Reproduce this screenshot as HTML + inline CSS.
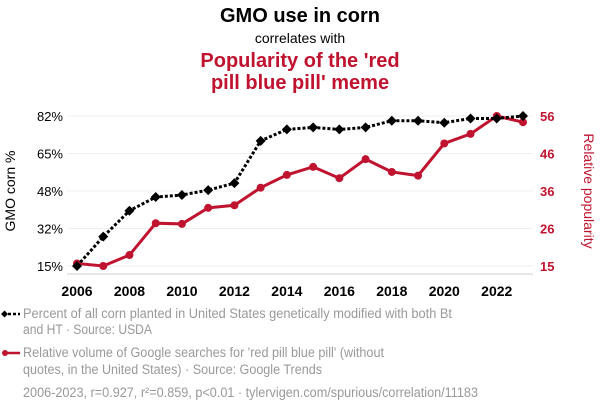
<!DOCTYPE html>
<html><head><meta charset="utf-8">
<style>
body{margin:0;background:#fff;font-family:"Liberation Sans",sans-serif;}
#wrap{position:relative;width:600px;height:414px;overflow:hidden;}
</style></head>
<body>
<div id="wrap">
<svg id="svg" width="600" height="414" xmlns="http://www.w3.org/2000/svg">
<text x="300" y="22" text-anchor="middle" font-size="20" font-weight="bold" fill="#000">GMO use in corn</text>
<text x="300" y="43" text-anchor="middle" font-size="14" fill="#000">correlates with</text>
<text x="300" y="67" text-anchor="middle" font-size="20" font-weight="bold" fill="#c0132f">Popularity of the 'red</text>
<text x="300" y="89" text-anchor="middle" font-size="20" font-weight="bold" fill="#c0132f">pill blue pill' meme</text>
<g id="grid"></g>
<g id="axes"></g>
<g id="series"></g>
<text transform="translate(15,191) rotate(-90)" text-anchor="middle" font-size="14" fill="#000">GMO corn %</text>
<text transform="translate(584,191) rotate(90)" text-anchor="middle" font-size="14" fill="#c0132f">Relative popularity</text>
<g>
<line x1="3" y1="314" x2="20" y2="314" stroke="#000" stroke-width="2.5" stroke-dasharray="3,2"/>
<path d="M1,314 L4.5,310.5 L8,314 L4.5,317.5Z" fill="#000"/>
<text x="23" y="318" font-size="13.5" fill="#999" textLength="429" lengthAdjust="spacingAndGlyphs">Percent of all corn planted in United States genetically modified with both Bt</text>
<text x="23" y="334" font-size="13.5" fill="#999" textLength="129" lengthAdjust="spacingAndGlyphs">and HT · Source: USDA</text>
</g>
<g>
<line x1="3" y1="353" x2="20" y2="353" stroke="#c0132f" stroke-width="2.5"/>
<circle cx="5" cy="353" r="3" fill="#c0132f"/>
<text x="23" y="357" font-size="13.5" fill="#999" textLength="361" lengthAdjust="spacingAndGlyphs">Relative volume of Google searches for 'red pill blue pill' (without</text>
<text x="23" y="374" font-size="13.5" fill="#999" textLength="299" lengthAdjust="spacingAndGlyphs">quotes, in the United States) · Source: Google Trends</text>
</g>
<text x="23" y="397" font-size="13.5" fill="#999" textLength="455" lengthAdjust="spacingAndGlyphs">2006-2023, r=0.927, r²=0.859, p&lt;0.01 · tylervigen.com/spurious/correlation/11183</text>
</svg>
</div>
<script>
const years=[2006,2007,2008,2009,2010,2011,2012,2013,2014,2015,2016,2017,2018,2019,2020,2021,2022,2023];
const gmoValues=[15,28.1,39.7,45.8,46.7,48.9,52,70.9,76,76.9,76,76.9,79.9,79.9,79,80.9,80.9,82];
const memeValues=[15.7,15,18,26.7,26.5,30.9,31.6,36.4,39.9,42.1,39,44.2,40.7,39.7,48.5,51.1,56,54.3];
const leftTickLabels=["15%","32%","48%","65%","82%"];
const rightTickLabels=["15","26","36","46","56"];
const xTickYears=[2006,2008,2010,2012,2014,2016,2018,2020,2022];

const NS="http://www.w3.org/2000/svg";
const X0=77,X1=523,YB=266,YT=116;
const xS=y=>X0+(y-2006)*(X1-X0)/(2023-2006);
const yL=v=>YB-(v-15)*(YB-YT)/(82-15);
const yR=v=>YB-(v-15)*(YB-YT)/(56-15);
function mk(tag,attrs,parent){const e=document.createElementNS(NS,tag);for(const k in attrs)e.setAttribute(k,attrs[k]);parent.appendChild(e);return e;}
const grid=document.getElementById('grid'),axes=document.getElementById('axes'),series=document.getElementById('series');
leftTickLabels.forEach((l,i)=>{
  const y=YB-i*(YB-YT)/(leftTickLabels.length-1);
  const g=mk('line',{x1:X0-10,x2:X1+10,y1:y,y2:y,stroke:'#eee','stroke-width':1},grid);
  
  
  const t=mk('text',{x:63,y:y+5,'text-anchor':'end','font-size':13,fill:'#000'},axes);
  t.textContent=l;
  
  
  const r=mk('text',{x:540,y:y+5,'font-size':13,'font-weight':'bold',fill:'#c0132f'},axes);
  r.textContent=rightTickLabels[i];
  
  
});
const ax=mk('line',{x1:X0-10,x2:X1+10,y1:274,y2:274,stroke:'#ccc','stroke-width':1},axes);


xTickYears.forEach(yr=>{
  const t=mk('text',{x:xS(yr),y:296,'text-anchor':'middle','font-size':14,'font-weight':'bold',fill:'#000'},axes);
  t.textContent=yr;
  
  
});
const rp=mk('polyline',{points:years.map((y,i)=>xS(y)+','+yR(memeValues[i])).join(' '),fill:'none',stroke:'#c0132f','stroke-width':3},series);


years.forEach((y,i)=>{
  const c=mk('circle',{cx:xS(y),cy:yR(memeValues[i]),r:4,fill:'#c0132f'},series);
  
  
});
const bp=mk('polyline',{points:years.map((y,i)=>xS(y)+','+yL(gmoValues[i])).join(' '),fill:'none',stroke:'#000','stroke-width':3,'stroke-dasharray':'3,2'},series);


years.forEach((y,i)=>{
  const x=xS(y),yy=yL(gmoValues[i]);
  const d=mk('path',{d:`M${x-5},${yy} L${x},${yy-5} L${x+5},${yy} L${x},${yy+5}Z`,fill:'#000'},series);
  
  
});
</script>
</body></html>
